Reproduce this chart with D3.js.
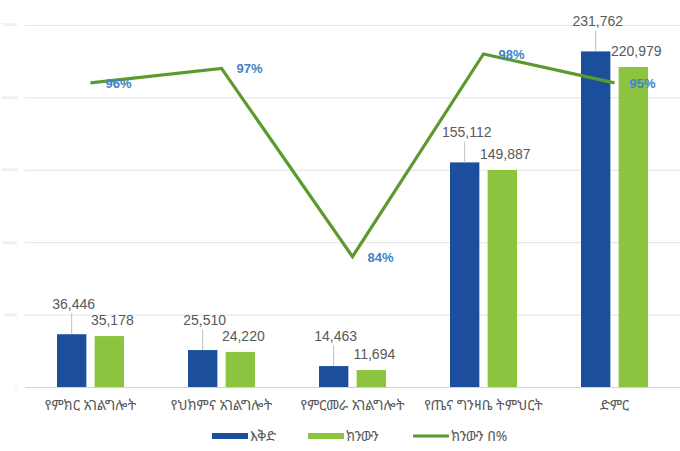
<!DOCTYPE html>
<html>
<head>
<meta charset="utf-8">
<script src="https://cdn.jsdelivr.net/npm/d3@7"></script>
<style>
  html, body { margin: 0; padding: 0; background: #fff; }
  svg { display: block; }
</style>
</head>
<body>
<svg id="chart" width="680" height="451"></svg>
<script>
// ---- data ----
const categories = ["የምክር አገልግሎት", "የህክምና አገልግሎት", "የምርመራ አገልግሎት", "የጤና ግንዛቤ ትምህርት", "ድምር"];
const planValues = [36446, 25510, 14463, 155112, 231762];
const actualValues = [35178, 24220, 11694, 149887, 220979];
const pctValues = [96, 97, 84, 98, 96];
const pctLabels = ["96%", "97%", "84%", "98%", "95%"];
const yTicks = [0, 50000, 100000, 150000, 200000, 250000];
const seriesNames = ["እቅድ", "ክንውን", "ክንውን በ%"];

// ---- layout ----
const svg = d3.select("#chart");
const mLeft = 25, mRight = 680, mTop = 25, mBottom = 387;
const blue = "#1b4f9e", green = "#8cc43f", lineGreen = "#5b9a2f", labelGray = "#595959", pctBlue = "#3f83c6";
const fontNum = "'Liberation Sans', Arial, sans-serif";
const fontEth = "'Noto Sans Ethiopic', 'Abyssinica SIL', 'DejaVu Sans', 'Noto Sans', sans-serif";

const x0 = d3.scaleBand().domain(categories).range([mLeft, mRight]).padding(0);
const groupW = 67;
const x1 = d3.scaleBand().domain(["plan", "actual"]).range([0, groupW]).paddingInner(0.22);
const y = d3.scaleLinear().domain([0, 250000]).range([mBottom, mTop]);
const yP = d3.scaleLinear().domain([75, 100]).range([mBottom, mTop]);
const cx = c => x0(c) + x0.bandwidth() / 2;

// gridlines
const yAxis = d3.axisLeft(y).tickValues(yTicks).tickSize(-(mRight - mLeft)).tickFormat(d3.format(","));
const gy = svg.append("g").attr("transform", `translate(${mLeft},0)`).call(yAxis);
gy.select(".domain").remove();
gy.selectAll(".tick line").attr("stroke", d => d === 0 ? "#d3d3d3" : "#e8e8e8").attr("stroke-width", 1.2);
gy.selectAll(".tick text").attr("fill", "#d6d6d6").attr("font-size", 4.2).attr("font-family", fontNum)
  .attr("x", -8).attr("dy", "0.2em");

// bars
const groups = svg.append("g").selectAll("g").data(categories).join("g")
  .attr("transform", c => `translate(${x0(c) + (x0.bandwidth() - groupW) / 2},0)`);

groups.append("rect")
  .attr("x", x1("plan")).attr("width", x1.bandwidth())
  .attr("y", (c, i) => y(planValues[i])).attr("height", (c, i) => mBottom - y(planValues[i]))
  .attr("fill", blue);
groups.append("rect")
  .attr("x", x1("actual")).attr("width", x1.bandwidth())
  .attr("y", (c, i) => y(actualValues[i])).attr("height", (c, i) => mBottom - y(actualValues[i]))
  .attr("fill", green);

// plan labels with leader lines
groups.append("line")
  .attr("x1", x1("plan") + x1.bandwidth() / 2).attr("x2", x1("plan") + x1.bandwidth() / 2)
  .attr("y1", (c, i) => y(planValues[i]) - 21).attr("y2", (c, i) => y(planValues[i]))
  .attr("stroke", "#bfbfbf").attr("stroke-width", 1);
groups.append("text")
  .attr("x", x1("plan") + x1.bandwidth() / 2 + 2)
  .attr("y", (c, i) => y(planValues[i]) - 25)
  .attr("text-anchor", "middle").attr("font-size", 14).attr("font-family", fontNum).attr("fill", labelGray)
  .text((c, i) => d3.format(",")(planValues[i]));
groups.append("text")
  .attr("x", x1("actual") + x1.bandwidth() / 2 + 3)
  .attr("y", (c, i) => y(actualValues[i]) - 11)
  .attr("text-anchor", "middle").attr("font-size", 14).attr("font-family", fontNum).attr("fill", labelGray)
  .text((c, i) => d3.format(",")(actualValues[i]));

// percentage line
const line = d3.line().x((d, i) => cx(categories[i])).y(d => yP(d));
svg.append("path").datum(pctValues).attr("d", line)
  .attr("fill", "none").attr("stroke", lineGreen).attr("stroke-width", 3.2).attr("stroke-linejoin", "miter");
svg.append("g").selectAll("text").data(pctValues).join("text")
  .attr("x", (d, i) => cx(categories[i]) + 15).attr("y", d => yP(d) + 5)
  .attr("font-size", 13).attr("font-weight", "bold").attr("font-family", fontNum).attr("fill", pctBlue)
  .text((d, i) => pctLabels[i]);

// category labels
svg.append("g").selectAll("text").data(categories).join("text")
  .attr("x", c => cx(c)).attr("y", 410)
  .attr("text-anchor", "middle").attr("font-size", 14).attr("font-family", fontEth).attr("fill", labelGray)
  .text(c => c);

// legend
const legend = [
  { name: seriesNames[0], color: blue, h: 6, x: 212 },
  { name: seriesNames[1], color: green, h: 6, x: 308 },
  { name: seriesNames[2], color: lineGreen, h: 3, x: 413 }
];
const lg = svg.append("g").selectAll("g").data(legend).join("g")
  .attr("transform", d => `translate(${d.x},436)`);
lg.append("rect").attr("x", 0).attr("y", d => -d.h / 2).attr("width", 36).attr("height", d => d.h).attr("fill", d => d.color);
lg.append("text").attr("x", 38).attr("y", 5).attr("font-size", 14).attr("font-family", fontEth).attr("fill", labelGray)
  .text(d => d.name);
</script>
</body>
</html>
